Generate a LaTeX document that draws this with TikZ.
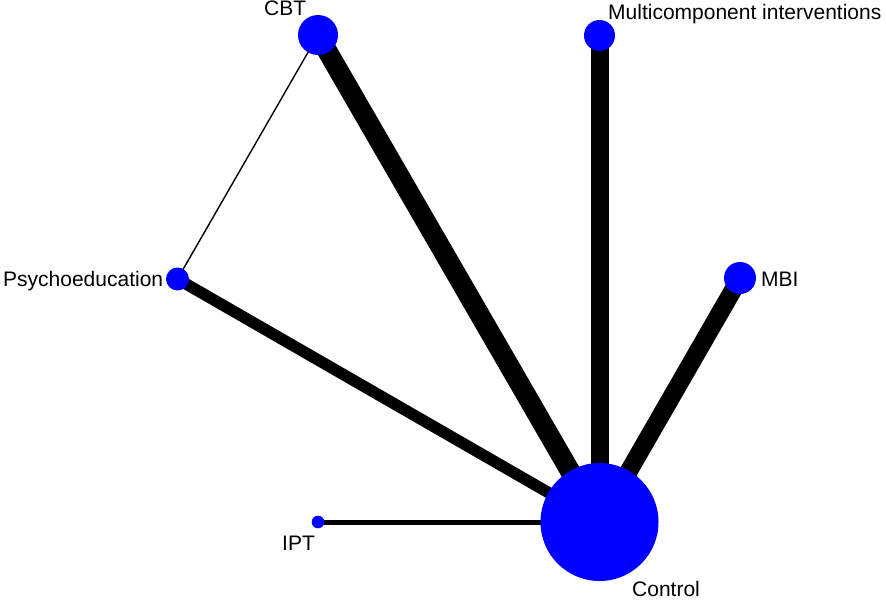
\documentclass[tikz,border=0pt]{standalone}
\usepackage{fontspec}
\setmainfont{Liberation Sans}
\definecolor{nodeblue}{RGB}{0,0,255}
\begin{document}
\begin{tikzpicture}[x=1pt,y=-1pt,
  trt/.style={circle,fill=nodeblue,draw=none,inner sep=0pt},
  lab/.style={anchor=base west,inner sep=0pt,font=\fontsize{21}{25}\selectfont},
  edge/.style={line width=#1,draw=black,line cap=butt}]
\useasboundingbox (0,0) rectangle (886,602);
\coordinate (cbt) at (318,35);
\coordinate (multi) at (599.5,35.5);
\coordinate (mbi) at (740,278);
\coordinate (psy) at (177.5,279);
\coordinate (ipt) at (318,522);
\coordinate (ctl) at (599.5,522);
\draw[edge=1.4pt] (cbt) -- (psy);
\draw[edge=20pt] (cbt) -- (ctl);
\draw[edge=18pt] (multi) -- (ctl);
\draw[edge=18pt] (mbi) -- (ctl);
\draw[edge=11.5pt] (psy) -- (ctl);
\draw[edge=5pt] (ipt) -- (ctl);
\node[trt,minimum size=40pt] (ncbt) at (cbt) {};
\node[trt,minimum size=31pt] (nmulti) at (multi) {};
\node[trt,minimum size=32pt] (nmbi) at (mbi) {};
\node[trt,minimum size=23pt] (npsy) at (psy) {};
\node[trt,minimum size=12.6pt] (nipt) at (ipt) {};
\node[trt,minimum size=118pt] (nctl) at (ctl) {};
\node[lab] (lcbt) at (264,16) {CBT};
\node[lab] (lmulti) at (608,19.5) {Multicomponent interventions};
\node[lab] (lmbi) at (761,286) {MBI};
\node[lab] (lpsy) at (3,286) {Psychoeducation};
\node[lab] (lipt) at (282,550) {IPT};
\node[lab] (lctl) at (632,596) {Control};
\end{tikzpicture}
\end{document}
